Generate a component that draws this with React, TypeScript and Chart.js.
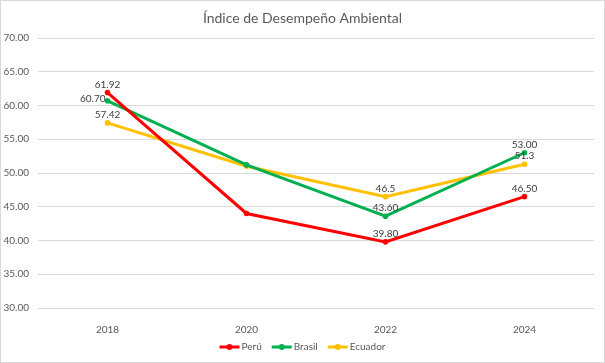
import React, { useEffect, useRef } from "react";
import { Chart, registerables } from "chart.js";

Chart.register(...registerables);

const categories = ["2018", "2020", "2022", "2024"];
const peru = [61.92, 44.0, 39.8, 46.5];
const brasil = [60.7, 51.2, 43.6, 53.0];
const ecuador = [57.42, 51.0, 46.5, 51.3];
const peruLabels = ["61.92", null, "39.80", "46.50"];
const brasilLabels = ["60.70", null, "43.60", "53.00"];
const ecuadorLabels = ["57.42", null, "46.5", "51.3"];
const titleText = "Índice de Desempeño Ambiental";

const FONT = "Lato, 'Open Sans', 'Liberation Sans', sans-serif";

export default function App() {
  const ref = useRef<HTMLCanvasElement>(null);
  useEffect(() => {
    if (!ref.current) return;
    const allLabels = [peruLabels, brasilLabels, ecuadorLabels];
    const overlay = {
      id: "overlay",
      afterDatasetsDraw(chart: any) {
        const ctx = chart.ctx;
        ctx.save();
        ctx.font = `10px ${FONT}`;
        ctx.fillStyle = "#404040";
        chart.data.datasets.forEach((ds: any, di: number) => {
          const meta = chart.getDatasetMeta(di);
          meta.data.forEach((pt: any, i: number) => {
            const txt = allLabels[di][i];
            if (!txt) return;
            if (di === 1 && i === 0) {
              ctx.textAlign = "right";
              ctx.textBaseline = "middle";
              ctx.fillText(txt, pt.x - 2, pt.y - 2);
            } else {
              ctx.textAlign = "center";
              ctx.textBaseline = "bottom";
              ctx.fillText(txt, pt.x, pt.y - 3);
            }
          });
        });
        ctx.font = `14px ${FONT}`;
        ctx.fillStyle = "#595959";
        ctx.textAlign = "center";
        ctx.textBaseline = "middle";
        ctx.fillText(titleText, chart.width / 2, 17);
        const items = chart.data.datasets.map((d: any) => ({ label: d.label, color: d.borderColor }));
        ctx.font = `10px ${FONT}`;
        const lineW = 20;
        const gap = 2;
        const spacing = 10;
        const widths = items.map((it: any) => lineW + gap + ctx.measureText(it.label).width);
        const total = widths.reduce((a: number, b: number) => a + b, 0) + spacing * (items.length - 1);
        let x = chart.width / 2 - total / 2;
        const y = 346;
        items.forEach((it: any, k: number) => {
          ctx.strokeStyle = it.color;
          ctx.lineWidth = 3;
          ctx.beginPath();
          ctx.moveTo(x, y);
          ctx.lineTo(x + lineW, y);
          ctx.stroke();
          ctx.fillStyle = it.color;
          ctx.beginPath();
          ctx.arc(x + lineW / 2, y, 3, 0, Math.PI * 2);
          ctx.fill();
          ctx.fillStyle = "#595959";
          ctx.textAlign = "left";
          ctx.textBaseline = "middle";
          ctx.fillText(it.label, x + lineW + gap, y);
          x += widths[k] + spacing;
        });
        ctx.restore();
      },
    };
    const mk = (label: string, data: number[], color: string) => ({
      label,
      data,
      borderColor: color,
      backgroundColor: color,
      borderWidth: 3,
      pointRadius: 2.8,
      pointBorderWidth: 0,
      pointBackgroundColor: color,
      pointBorderColor: color,
      tension: 0,
    });
    const chart = new Chart(ref.current, {
      type: "line",
      data: {
        labels: categories,
        datasets: [
          mk("Perú", peru, "#FF0000"),
          mk("Brasil", brasil, "#00B050"),
          mk("Ecuador", ecuador, "#FFC000"),
        ],
      },
      options: {
        animation: false,
        responsive: false,
        maintainAspectRatio: false,
        layout: { padding: { left: 0, right: 10, top: 37, bottom: 24 } },
        plugins: {
          legend: { display: false },
          title: { display: false },
          tooltip: { enabled: false },
        },
        scales: {
          x: {
            offset: true,
            grid: { display: false },
            border: { display: false },
            ticks: { color: "#595959", font: { family: FONT, size: 10 }, padding: 8, maxRotation: 0 },
            afterFit: (s: any) => { s.height = 30; },
          },
          y: {
            min: 30,
            max: 70,
            grid: { color: "#d9d9d9", lineWidth: 1, drawTicks: false },
            border: { display: false },
            ticks: {
              stepSize: 5,
              color: "#595959",
              font: { family: FONT, size: 10 },
              padding: 9,
              callback: (v: any) => Number(v).toFixed(2),
            },
            afterFit: (s: any) => { s.width = 37; },
          },
        },
      },
      plugins: [overlay],
    });
    return () => chart.destroy();
  }, []);
  return (
    <div
      style={{
        position: "absolute",
        left: 0,
        top: 0,
        width: 605,
        height: 363,
        border: "1px solid #d9d9d9",
        boxSizing: "border-box",
        background: "#fff",
      }}
    >
      <canvas ref={ref} width={603} height={361} style={{ display: "block" }} />
    </div>
  );
}
